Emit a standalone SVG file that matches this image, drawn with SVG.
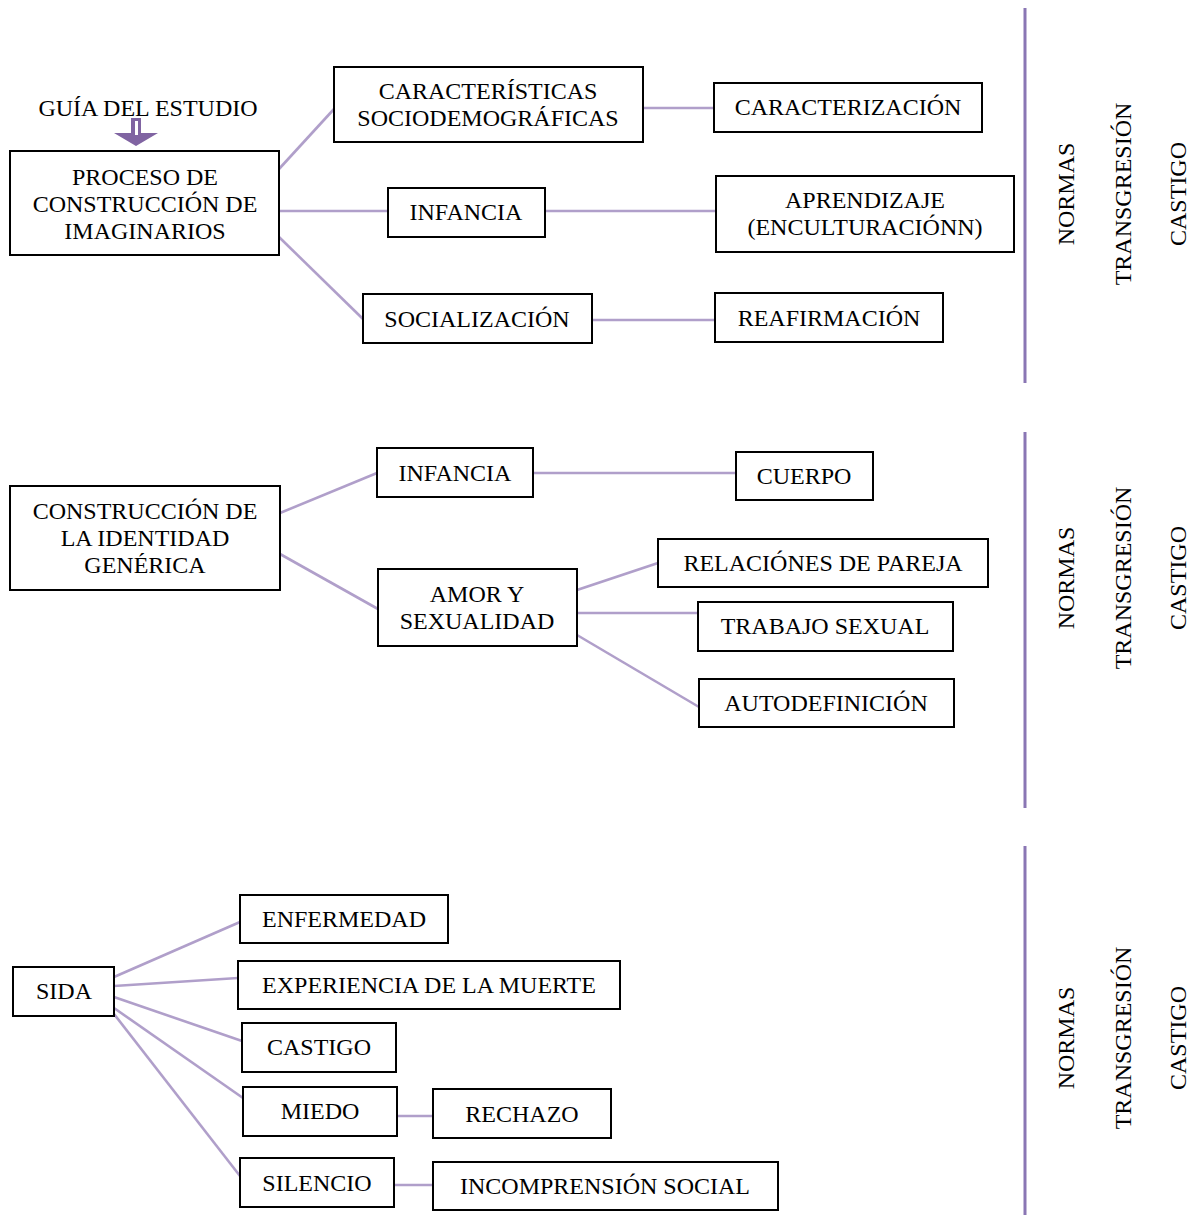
<svg xmlns="http://www.w3.org/2000/svg" width="1192" height="1220" viewBox="0 0 1192 1220">
<style>
.box{fill:#fff;stroke:#000;stroke-width:2}
text{font-family:"Liberation Serif","Times New Roman",serif;font-size:24px;fill:#000;text-anchor:middle}
.con line{stroke:#b09fca;stroke-width:2.6;fill:none}
.div line{stroke:#8a76b4;stroke-width:3}
</style>
<rect width="1192" height="1220" fill="#fff"/>

<g id="connectors" class="con">
  <line x1="279" y1="169" x2="334" y2="109"/>
  <line x1="279" y1="211" x2="388" y2="211"/>
  <line x1="279" y1="237" x2="363" y2="319"/>
  <line x1="643" y1="108" x2="714" y2="108"/>
  <line x1="545" y1="211" x2="716" y2="211"/>
  <line x1="592" y1="320" x2="715" y2="320"/>

  <line x1="280" y1="513" x2="377" y2="473"/>
  <line x1="280" y1="554" x2="378" y2="609"/>
  <line x1="533" y1="473" x2="736" y2="473"/>
  <line x1="577" y1="590" x2="658" y2="563"/>
  <line x1="577" y1="613" x2="698" y2="613"/>
  <line x1="577" y1="635" x2="699" y2="707"/>

  <line x1="114" y1="977" x2="240" y2="922"/>
  <line x1="114" y1="986" x2="238" y2="978"/>
  <line x1="114" y1="997" x2="242" y2="1041"/>
  <line x1="114" y1="1008" x2="243" y2="1098"/>
  <line x1="114" y1="1014" x2="240" y2="1176"/>
  <line x1="397" y1="1116" x2="433" y2="1116"/>
  <line x1="394" y1="1185" x2="433" y2="1185"/>
</g>

<g id="dividers" class="div">
  <line x1="1025" y1="8" x2="1025" y2="383"/>
  <line x1="1025" y1="432" x2="1025" y2="808"/>
  <line x1="1025" y1="846" x2="1025" y2="1215"/>
</g>

<g id="guia">
  <text x="148" y="116">GUÍA DEL ESTUDIO</text>
  <polygon points="131,118 141,118 141,133 158,133 136,146 114,133 131,133" fill="#8064a2"/>
  <rect x="135" y="121" width="3" height="14" fill="#fff"/>
</g>

<g id="proceso">
  <rect class="box" x="10" y="151" width="269" height="104"/>
  <text x="145" y="185">PROCESO DE</text>
  <text x="145" y="212">CONSTRUCCIÓN DE</text>
  <text x="145" y="239">IMAGINARIOS</text>
</g>
<g id="caracteristicas">
  <rect class="box" x="334" y="67" width="309" height="75"/>
  <text x="488" y="99">CARACTERÍSTICAS</text>
  <text x="488" y="126">SOCIODEMOGRÁFICAS</text>
</g>
<g id="caracterizacion">
  <rect class="box" x="714" y="83" width="268" height="49"/>
  <text x="848" y="115">CARACTERIZACIÓN</text>
</g>
<g id="infancia1">
  <rect class="box" x="388" y="188" width="157" height="49"/>
  <text x="466" y="220">INFANCIA</text>
</g>
<g id="aprendizaje">
  <rect class="box" x="716" y="176" width="298" height="76"/>
  <text x="865" y="208">APRENDIZAJE</text>
  <text x="865" y="235">(ENCULTURACIÓNN)</text>
</g>
<g id="socializacion">
  <rect class="box" x="363" y="294" width="229" height="49"/>
  <text x="477" y="327">SOCIALIZACIÓN</text>
</g>
<g id="reafirmacion">
  <rect class="box" x="715" y="293" width="228" height="49"/>
  <text x="829" y="326">REAFIRMACIÓN</text>
</g>

<g id="construccion">
  <rect class="box" x="10" y="486" width="270" height="104"/>
  <text x="145" y="519">CONSTRUCCIÓN DE</text>
  <text x="145" y="546">LA IDENTIDAD</text>
  <text x="145" y="573">GENÉRICA</text>
</g>
<g id="infancia2">
  <rect class="box" x="377" y="448" width="156" height="49"/>
  <text x="455" y="481">INFANCIA</text>
</g>
<g id="cuerpo">
  <rect class="box" x="736" y="452" width="137" height="48"/>
  <text x="804" y="484">CUERPO</text>
</g>
<g id="amor">
  <rect class="box" x="378" y="569" width="199" height="77"/>
  <text x="477" y="602">AMOR Y</text>
  <text x="477" y="629">SEXUALIDAD</text>
</g>
<g id="relaciones">
  <rect class="box" x="658" y="539" width="330" height="48"/>
  <text x="823" y="571">RELACIÓNES DE PAREJA</text>
</g>
<g id="trabajo">
  <rect class="box" x="698" y="602" width="255" height="49"/>
  <text x="825" y="634">TRABAJO SEXUAL</text>
</g>
<g id="autodefinicion">
  <rect class="box" x="699" y="679" width="255" height="48"/>
  <text x="826" y="711">AUTODEFINICIÓN</text>
</g>

<g id="sida">
  <rect class="box" x="13" y="967" width="101" height="49"/>
  <text x="64" y="999">SIDA</text>
</g>
<g id="enfermedad">
  <rect class="box" x="240" y="895" width="208" height="48"/>
  <text x="344" y="927">ENFERMEDAD</text>
</g>
<g id="experiencia">
  <rect class="box" x="238" y="961" width="382" height="48"/>
  <text x="429" y="993">EXPERIENCIA DE LA MUERTE</text>
</g>
<g id="castigo">
  <rect class="box" x="242" y="1023" width="154" height="49"/>
  <text x="319" y="1055">CASTIGO</text>
</g>
<g id="miedo">
  <rect class="box" x="243" y="1087" width="154" height="49"/>
  <text x="320" y="1119">MIEDO</text>
</g>
<g id="rechazo">
  <rect class="box" x="433" y="1089" width="178" height="49"/>
  <text x="522" y="1122">RECHAZO</text>
</g>
<g id="silencio">
  <rect class="box" x="240" y="1158" width="154" height="49"/>
  <text x="317" y="1191">SILENCIO</text>
</g>
<g id="incomprension">
  <rect class="box" x="433" y="1162" width="345" height="48"/>
  <text x="605" y="1194">INCOMPRENSIÓN SOCIAL</text>
</g>

<g id="side1">
  <text transform="translate(1074,194) rotate(-90)">NORMAS</text>
  <text transform="translate(1131,194) rotate(-90)">TRANSGRESIÓN</text>
  <text transform="translate(1186,194) rotate(-90)">CASTIGO</text>
</g>
<g id="side2">
  <text transform="translate(1074,578) rotate(-90)">NORMAS</text>
  <text transform="translate(1131,578) rotate(-90)">TRANSGRESIÓN</text>
  <text transform="translate(1186,578) rotate(-90)">CASTIGO</text>
</g>
<g id="side3">
  <text transform="translate(1074,1038) rotate(-90)">NORMAS</text>
  <text transform="translate(1131,1038) rotate(-90)">TRANSGRESIÓN</text>
  <text transform="translate(1186,1038) rotate(-90)">CASTIGO</text>
</g>
</svg>
